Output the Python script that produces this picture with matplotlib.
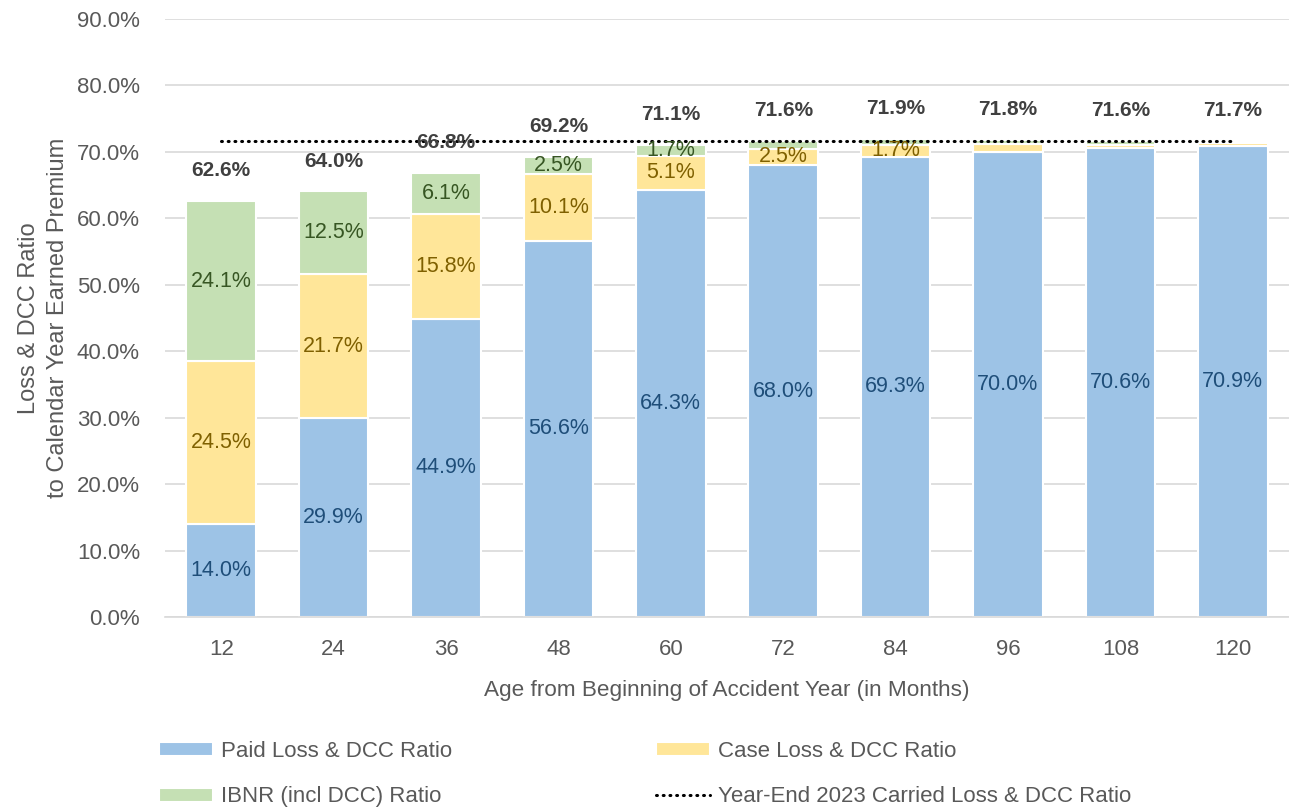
import numpy as np
from matplotlib import pyplot as plt
from matplotlib.ticker import PercentFormatter

ages = ['12', '24', '36', '48', '60', '72', '84', '96', '108', '120']
paid = [14.0, 29.9, 44.9, 56.6, 64.3, 68.0, 69.3, 70.0, 70.6, 70.9]
case = [24.5, 21.7, 15.8, 10.1, 5.1, 2.5, 1.7, 1.2, 0.4, 0.4]
ibnr = [24.1, 12.5, 6.1, 2.5, 1.7, 1.1, 0.9, 0.6, 0.6, 0.4]
totals = [62.6, 64.0, 66.8, 69.2, 71.1, 71.6, 71.9, 71.8, 71.6, 71.7]
carried = 71.7

plt.rcParams['font.family'] = ['Liberation Sans', 'DejaVu Sans']

fig = plt.figure(figsize=(12.89, 8.07), dpi=100)
ax = fig.add_axes([0.128, 0.2354, 0.872, 0.7411])

x = np.arange(len(ages))
w = 0.62
paid_a = np.array(paid)
case_a = np.array(case)
ibnr_a = np.array(ibnr)

series = [
    ('Paid Loss & DCC Ratio', paid_a, np.zeros(len(x)), '#9DC3E6', '#1F4E79'),
    ('Case Loss & DCC Ratio', case_a, paid_a, '#FFE699', '#7F6000'),
    ('IBNR (incl DCC) Ratio', ibnr_a, paid_a + case_a, '#C5E0B4', '#375623'),
]
handles = []
for name, vals, bottom, col, tcol in series:
    b = ax.bar(x, vals, w, bottom=bottom, color=col, edgecolor='white',
               linewidth=1.5, label=name, zorder=2)
    handles.append(b)
    for xi, v, bt in zip(x, vals, bottom):
        if v >= 1.5:
            ax.text(xi, bt + v / 2, f'{v:.1f}%', ha='center', va='center',
                    fontsize=15.5, color=tcol, zorder=4)

line, = ax.plot(x, [carried] * len(x), color='black', linestyle=(0, (0.3, 1.9)),
                linewidth=2.2, dash_capstyle='round', zorder=3,
                label='Year-End 2023 Carried Loss & DCC Ratio')

for xi, t in zip(x, totals):
    ax.annotate(f'{t:.1f}%', (xi, t), xytext=(0, 15), textcoords='offset points',
                ha='center', va='bottom', fontsize=15, fontweight='bold',
                color='#404040', zorder=5)

ax.set_xlim(-0.5, 9.5)
ax.set_ylim(0, 90)
ax.set_yticks(np.arange(0, 91, 10))
ax.yaxis.set_major_formatter(PercentFormatter(decimals=1))
ax.set_xticks(x)
ax.set_xticklabels(ages)
ax.grid(axis='y', color='#D9D9D9', linewidth=1.2, zorder=0)
ax.set_axisbelow(True)
for s in ['top', 'right', 'left']:
    ax.spines[s].set_visible(False)
ax.spines['bottom'].set_color('#D9D9D9')
ax.spines['bottom'].set_linewidth(1.2)
ax.tick_params(axis='both', length=0, labelsize=16, colors='#595959')
ax.tick_params(axis='y', pad=18)
ax.tick_params(axis='x', pad=16)

ax.set_xlabel('Age from Beginning of Accident Year (in Months)', fontsize=16.2,
              color='#595959', labelpad=14)
ax.set_ylabel('Loss & DCC Ratio\nto Calendar Year Earned Premium', fontsize=17,
              color='#595959', labelpad=6, linespacing=1.4)

fig.legend(handles=[handles[0], handles[2], handles[1], line], ncol=2,
           loc='upper left', bbox_to_anchor=(159 / 1289, 1 - 741 / 807),
           frameon=False, borderpad=0, borderaxespad=0,
           prop={'size': 16}, labelcolor='#595959',
           handlelength=2.45, handleheight=0.6, columnspacing=9.15,
           labelspacing=1.1, handletextpad=0.35)

fig.savefig('out.png', dpi=100)
